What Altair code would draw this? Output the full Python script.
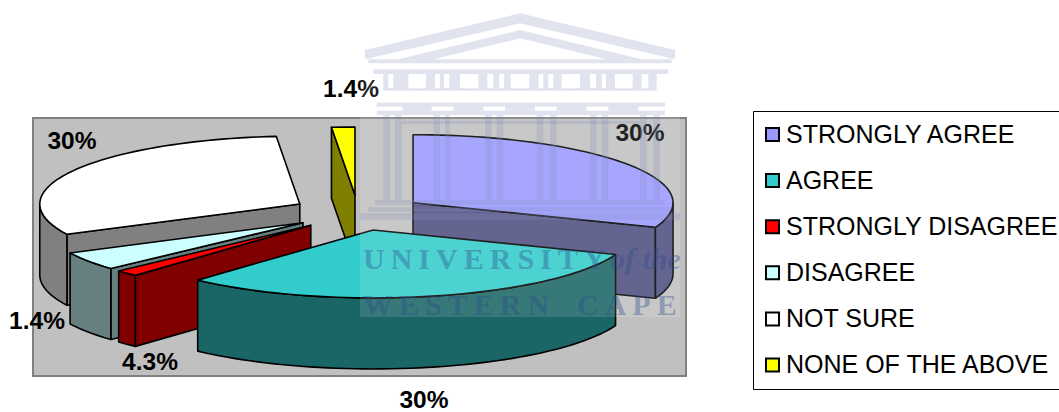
import math
import altair as alt

# Survey responses
categories = ["STRONGLY AGREE", "AGREE", "STRONGLY DISAGREE", "DISAGREE", "NOT SURE", "NONE OF THE ABOVE"]
shares = [30, 30, 1.4, 4.3, 30, 1.4]
top_colors = ["#9999FF", "#33CCCC", "#FF0000", "#CCFFFF", "#FFFFFF", "#FFFF00"]
side_colors = ["#4D4D80", "#1A6666", "#800000", "#668080", "#808080", "#808000"]
label_x = [640, 424, 37, 150, 72, 351]
label_y = [134, 401, 322, 363, 142, 90]
paint_order = [5, 0, 4, 3, 2, 1]

# Pie geometry in page pixels
CX, CY = 358.0, 212.7
RX, RY = 260.0, 68.0
EX, EY = 66.7, 17.7
DEPTH = 71.0


def polar(t, ox, oy, drop=0.0):
    r = math.radians(t)
    return [ox + RX * math.sin(r), oy - RY * math.cos(r) + drop]


def polygon(key, ring):
    return {
        "type": "Feature",
        "properties": {"key": key},
        "geometry": {"type": "Polygon", "coordinates": [ring + [ring[0]]]},
    }


def arc(t0, t1, ox, oy, drop=0.0):
    n = max(2, int(abs(t1 - t0) / 2) + 1)
    return [polar(t0 + (t1 - t0) * i / (n - 1), ox, oy, drop) for i in range(n)]


total = sum(shares)
starts, running = [], 0.0
for v in shares:
    starts.append(running)
    running += v / total * 360

faces = []
for i in paint_order:
    name = categories[i]
    t0 = starts[i]
    t1 = t0 + shares[i] / total * 360
    mid = math.radians((t0 + t1) / 2)
    ox, oy = CX + EX * math.sin(mid), CY - EY * math.cos(mid)
    side = name + " side"
    # Radial walls that face the viewer
    for t, visible in ((t0, math.sin(math.radians(t0)) < -1e-6), (t1, math.sin(math.radians(t1)) > 1e-6)):
        if visible:
            rim = polar(t, ox, oy)
            faces.append(polygon(side, [[ox, oy], rim, [rim[0], rim[1] + DEPTH], [ox, oy + DEPTH]]))
    # Outer rim wall on the front half
    a, b = max(t0, 90), min(t1, 270)
    if b > a:
        faces.append(polygon(side, arc(a, b, ox, oy) + arc(b, a, ox, oy, DEPTH)))
    # Top face
    faces.append(polygon(name, [[ox, oy]] + arc(t0, t1, ox, oy)))

# Crest drawn faintly over the page: rectangles as (x0, y0, x1, y1)
crest_rects = [
    (85, 178, 995, 190), (100, 208, 985, 222), (130, 265, 950, 272), (110, 308, 975, 320),
    (110, 332, 975, 345), (185, 362, 900, 372), (105, 600, 975, 615), (85, 622, 990, 635),
    (60, 640, 1020, 660),
]
for a, b in [(130, 145), (160, 205), (258, 285), (300, 312), (328, 360), (415, 442), (460, 478), (492, 512),
             (568, 595), (610, 625), (640, 665), (720, 750), (768, 785), (798, 825), (878, 905), (925, 950)]:
    crest_rects.append((a, 222, b, 265))
for a, b in [(188, 275), (340, 430), (495, 585), (650, 740), (805, 895)]:
    crest_rects.append((a, 320, b, 332))
for a, b in [(130, 150), (165, 185), (280, 300), (315, 330), (435, 455), (470, 490),
             (590, 610), (630, 650), (750, 770), (785, 805), (900, 920), (940, 960)]:
    crest_rects.append((a, 345, b, 600))


def crest_point(x, y):
    return [340 + x / 3, y / 3]


crest = []
for x0, y0, x1, y1 in crest_rects:
    crest.append(polygon("crest", [crest_point(x0, y0), crest_point(x1, y0), crest_point(x1, y1), crest_point(x0, y1)]))
crest.append(polygon("crest", [crest_point(75, 150), crest_point(540, 40), crest_point(1005, 150),
                               crest_point(1005, 178), crest_point(540, 70), crest_point(75, 178)]))
crest.append(polygon("crest", [crest_point(175, 178), crest_point(540, 90), crest_point(905, 178),
                               crest_point(800, 178), crest_point(540, 115), crest_point(280, 178)]))

identity = dict(type="identity", scale=1, translate=[0, 0])
px_x = alt.Scale(domain=[0, 1059], range=[0, 1059])
px_y = alt.Scale(domain=[0, 412], range=[0, 412])

panel = alt.Chart(alt.Data(values=[{"x": 33, "x2": 686, "y": 118, "y2": 376}])).mark_rect(
    fill="#C0C0C0", stroke="#808080", strokeWidth=2
).encode(
    x=alt.X("x:Q", scale=px_x, axis=None), x2="x2:Q",
    y=alt.Y("y:Q", scale=px_y, axis=None), y2="y2:Q",
)

legend = alt.Legend(
    values=categories, title=None, orient="none", legendX=753, legendY=111,
    symbolType="square", symbolSize=170, symbolStrokeColor="black", symbolStrokeWidth=2,
    symbolOpacity=1, symbolOffset=-4, labelFont="Liberation Sans", labelFontSize=25, labelColor="black",
    labelLimit=400, labelOffset=1, rowPadding=20.1, padding=11,
    strokeColor="black", fillColor="white", cornerRadius=0,
)

pie = alt.Chart(alt.Data(values=faces)).mark_geoshape(
    stroke="black", strokeWidth=1.6, strokeJoin="round"
).encode(
    color=alt.Color(
        "properties.key:N", legend=legend,
        scale=alt.Scale(
            domain=categories + [c + " side" for c in categories],
            range=top_colors + side_colors,
        ),
    ),
).project(**identity)

labels = alt.Chart(alt.Data(values=[
    {"label": f"{v:g}%", "x": x, "y": y} for v, x, y in zip(shares, label_x, label_y)
])).mark_text(
    font="Liberation Sans", fontWeight="bold", fontSize=24.5, color="black", baseline="middle"
).encode(
    x=alt.X("x:Q", scale=px_x, axis=None),
    y=alt.Y("y:Q", scale=px_y, axis=None),
    text="label:N",
)

veil = alt.Chart(alt.Data(values=[{"x": 360, "x2": 680, "y": 13, "y2": 317}])).mark_rect(
    fill="white", opacity=0.13
).encode(
    x=alt.X("x:Q", scale=px_x, axis=None), x2="x2:Q",
    y=alt.Y("y:Q", scale=px_y, axis=None), y2="y2:Q",
)

crest_layer = alt.Chart(alt.Data(values=crest)).mark_geoshape(
    fill="#8389BE", strokeWidth=0, opacity=0.24
).project(**identity)

seal_words = ["U\u2009N\u2009I\u2009V\u2009E\u2009R\u2009S\u2009I\u2009T\u2009Y", "W\u2009E\u2009S\u2009T\u2009E\u2009R\u2009N",
              "C\u2009A\u2009P\u2009E"]
seal = alt.Chart(alt.Data(values=[
    {"t": seal_words[0], "x": 363, "y": 260},
    {"t": seal_words[1], "x": 363, "y": 306},
    {"t": seal_words[2], "x": 577, "y": 306},
])).mark_text(
    font="Liberation Serif", fontWeight="bold", fontSize=30, color="#2B4A8A", opacity=0.36,
    align="left", baseline="middle"
).encode(
    x=alt.X("x:Q", scale=px_x, axis=None),
    y=alt.Y("y:Q", scale=px_y, axis=None),
    text="t:N",
)
seal_small = alt.Chart(alt.Data(values=[{"t": "of the", "x": 610, "y": 260}])).mark_text(
    font="Liberation Serif", fontStyle="italic", fontWeight="bold", fontSize=30, color="#2B4A8A", opacity=0.36,
    align="left", baseline="middle"
).encode(
    x=alt.X("x:Q", scale=px_x, axis=None),
    y=alt.Y("y:Q", scale=px_y, axis=None),
    text="t:N",
)

chart = alt.layer(panel, pie, labels, veil, crest_layer, seal, seal_small).properties(
    width=1059, height=412, padding=0,
    autosize=alt.AutoSizeParams(type="none"),
    background="white",
).configure_view(stroke=None)

chart.save("out.html", embed_options={"renderer": "svg", "actions": False})
